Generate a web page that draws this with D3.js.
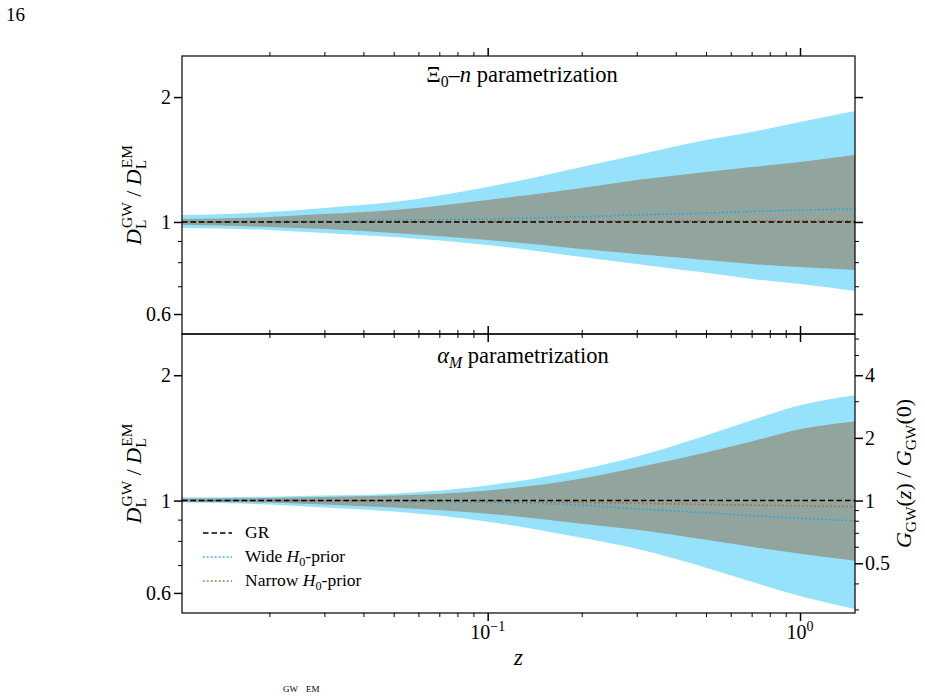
<!DOCTYPE html>
<html><head><meta charset="utf-8">
<script src="https://cdn.jsdelivr.net/npm/d3@7"></script>
<style>
body{margin:0;background:#fff}
text{font-family:"Liberation Serif","Times New Roman",serif;fill:#000;white-space:pre}
</style></head>
<body><svg id="c" width="925" height="697"></svg>
<script>
// ---------- data ----------
const zVals        = [0.0105, 0.02, 0.03, 0.05, 0.1, 0.2, 0.3, 0.5, 0.7, 1.0, 1.5];
// Xi0-n parametrization
const xiWideLo     = [0.967, 0.957, 0.941, 0.920, 0.880, 0.823, 0.792, 0.754, 0.729, 0.709, 0.682];
const xiWideHi     = [1.039, 1.057, 1.081, 1.117, 1.214, 1.357, 1.450, 1.576, 1.648, 1.742, 1.851];
const xiNarrowLo   = [0.984, 0.973, 0.962, 0.941, 0.905, 0.861, 0.837, 0.810, 0.792, 0.779, 0.766];
const xiNarrowHi   = [1.017, 1.028, 1.045, 1.069, 1.130, 1.208, 1.262, 1.320, 1.357, 1.395, 1.450];
const xiWideMed    = [1.000, 1.003, 1.005, 1.010, 1.017, 1.030, 1.040, 1.050, 1.060, 1.068, 1.075];
const xiNarrowMed  = [1.000, 1.001, 1.001, 1.002, 1.003, 1.004, 1.004, 1.005, 1.005, 1.006, 1.006];
// alpha_M parametrization
const amWideLo     = [0.989, 0.978, 0.962, 0.941, 0.890, 0.814, 0.766, 0.690, 0.638, 0.590, 0.549];
const amWideHi     = [1.017, 1.022, 1.028, 1.039, 1.087, 1.188, 1.276, 1.434, 1.559, 1.694, 1.791];
const amNarrowLo   = [0.994, 0.989, 0.978, 0.962, 0.930, 0.880, 0.851, 0.805, 0.775, 0.745, 0.717];
const amNarrowHi   = [1.011, 1.014, 1.020, 1.028, 1.057, 1.130, 1.201, 1.305, 1.387, 1.483, 1.550];
const amWideMed    = [1.000, 0.999, 0.998, 0.996, 0.990, 0.975, 0.955, 0.935, 0.920, 0.907, 0.894];
const amNarrowMed  = [1.000, 1.000, 0.999, 0.999, 0.996, 0.990, 0.985, 0.979, 0.975, 0.971, 0.967];
const grLine       = [1, 1];
// ticks
const xMajor = [0.1, 1];
const xMinor = [0.02,0.03,0.04,0.05,0.06,0.07,0.08,0.09,0.2,0.3,0.4,0.5,0.6,0.7,0.8,0.9];
const yMajor = [0.6, 1, 2];
const yMajorLabels = ["0.6", "1", "2"];
const yMinor = [0.7, 0.8, 0.9];
const gMajor = [0.5, 1, 2, 4];
const gMajorLabels = ["0.5", "1", "2", "4"];
const gMinor = [0.3, 0.4, 0.6, 0.7, 0.8, 0.9, 3, 5, 6];
const legendItems = ["GR", "Wide", "Narrow"];

// ---------- layout ----------
const NB = '\u00a0';
const svg = d3.select('#c');
const L = 182, R = 855, T1 = 56, B1 = 334, T2 = 334, B2 = 613;
const yDom = [0.537, 2.512];
const x = d3.scaleLog().domain([0.0105, 1.5]).range([L, R]);
const yTop = d3.scaleLog().domain(yDom).range([B1, T1]);
const yBot = d3.scaleLog().domain(yDom).range([B2, T2]);
const gS = d3.scaleLog().domain([yDom[0]**2, yDom[1]**2]).range([B2, T2]);

const C_WIDE = '#97e2fb', C_NARROW = '#91a49e', C_WMED = '#1aa8e6', C_NMED = '#b8642c';

function drawMath(g, parts, fs) {
  let cx = 0;
  for (const p of parts) {
    if (p.stack) {
      const s = fs * 0.7;
      const a = g.append('text').attr('x', cx + (p.supdx||0)*fs).attr('y', -fs * 0.40).style('font-size', s + 'px').text(p.stack[0]);
      const b = g.append('text').attr('x', cx).attr('y', fs * 0.24).style('font-size', s + 'px').text(p.stack[1]);
      cx += Math.max(a.node().getComputedTextLength() + (p.supdx||0)*fs, b.node().getComputedTextLength());
    } else {
      const t = g.append('text').attr('x', cx).attr('y', (p.dy || 0) * fs)
        .style('font-size', (p.s || 1) * fs + 'px')
        .style('font-style', p.it ? 'italic' : 'normal').text(p.t.replace(/ /g, NB));
      cx += t.node().getComputedTextLength();
    }
  }
  return cx;
}
function mathLabel(parent, parts, fs, tx, ty, rot, anchor) {
  const outer = parent.append('g').attr('transform', `translate(${tx},${ty}) rotate(${rot || 0})`);
  const inner = outer.append('g');
  const w = drawMath(inner, parts, fs);
  const off = anchor === 'start' ? 0 : (anchor === 'end' ? -w : -w / 2);
  inner.attr('transform', `translate(${off},0)`);
  return outer;
}

function panel(id, y, top, bot, wLo, wHi, nLo, nHi, wMed, nMed) {
  const g = svg.append('g');
  svg.append('clipPath').attr('id', id).append('rect').attr('x', L).attr('y', top).attr('width', R - L).attr('height', bot - top);
  const pg = g.append('g').attr('clip-path', `url(#${id})`);
  const mk = (lo, hi) => zVals.map((z, i) => ({ z, lo: lo[i], hi: hi[i] }));
  const area = d3.area().x(d => x(d.z)).y0(d => y(d.lo)).y1(d => y(d.hi)).curve(d3.curveMonotoneX);
  const line = d3.line().x(d => x(d.z)).y(d => y(d.v)).curve(d3.curveMonotoneX);
  pg.append('path').attr('d', area(mk(wLo, wHi))).attr('fill', C_WIDE);
  pg.append('path').attr('d', area(mk(nLo, nHi))).attr('fill', C_NARROW);
  pg.append('path').attr('d', line(zVals.map((z, i) => ({ z, v: wMed[i] })))).attr('fill', 'none')
    .attr('stroke', C_WMED).attr('stroke-width', 1.6).attr('stroke-dasharray', '1.6,2.4');
  pg.append('path').attr('d', line(zVals.map((z, i) => ({ z, v: nMed[i] })))).attr('fill', 'none')
    .attr('stroke', C_NMED).attr('stroke-width', 1.6).attr('stroke-dasharray', '1.6,2.4');
  pg.append('path').attr('d', d3.line().x(d => d[0]).y(d => y(d[1]))([[L, grLine[0]], [R, grLine[1]]]))
    .attr('fill', 'none').attr('stroke', '#000').attr('stroke-width', 1.5).attr('stroke-dasharray', '5.5,3');
  // frame
  g.append('rect').attr('x', L).attr('y', top).attr('width', R - L).attr('height', bot - top)
    .attr('fill', 'none').attr('stroke', '#000').attr('stroke-width', 1.2);
  const ax = (axis, vals, size, w, tr) => {
    const a = g.append('g').attr('transform', tr).call(axis.tickValues(vals).tickSize(size).tickFormat('').tickSizeOuter(0));
    a.select('.domain').remove();
    a.selectAll('line').attr('stroke', '#000').attr('stroke-width', w);
    return a;
  };
  ax(d3.axisTop(x), xMajor, 8, 1.5, `translate(0,${top})`);
  ax(d3.axisTop(x), xMinor, 4, 1, `translate(0,${top})`);
  ax(d3.axisBottom(x), xMajor, 8, 1.5, `translate(0,${bot})`);
  ax(d3.axisBottom(x), xMinor, 4, 1, `translate(0,${bot})`);
  ax(d3.axisLeft(y), yMajor, 8, 1.5, `translate(${L},0)`);
  ax(d3.axisLeft(y), yMinor, 4, 1, `translate(${L},0)`);
  yMajor.forEach((v, i) => g.append('text').attr('x', L - 11).attr('y', y(v) + 7)
    .attr('text-anchor', 'end').style('font-size', '20px').text(yMajorLabels[i]));
  mathLabel(g, [{ t: 'D', it: 1 }, { stack: ['GW', 'L'], supdx: 0.05 }, { t: ' / ' }, { t: 'D', it: 1 }, { stack: ['EM', 'L'], supdx: 0.05 }],
    22, 141, (top + bot) / 2, -90);
  return g;
}

const g1 = panel('cp1', yTop, T1, B1, xiWideLo, xiWideHi, xiNarrowLo, xiNarrowHi, xiWideMed, xiNarrowMed);
{
  const a = g1.append('g').attr('transform', `translate(${R},0)`).call(d3.axisRight(yTop).tickValues(yMajor).tickSize(8).tickFormat('').tickSizeOuter(0));
  a.select('.domain').remove(); a.selectAll('line').attr('stroke', '#000').attr('stroke-width', 1.5);
  const b = g1.append('g').attr('transform', `translate(${R},0)`).call(d3.axisRight(yTop).tickValues(yMinor).tickSize(4).tickFormat('').tickSizeOuter(0));
  b.select('.domain').remove(); b.selectAll('line').attr('stroke', '#000').attr('stroke-width', 1);
}
const g2 = panel('cp2', yBot, T2, B2, amWideLo, amWideHi, amNarrowLo, amNarrowHi, amWideMed, amNarrowMed);
{
  const a = g2.append('g').attr('transform', `translate(${R},0)`).call(d3.axisRight(gS).tickValues(gMajor).tickSize(8).tickFormat('').tickSizeOuter(0));
  a.select('.domain').remove(); a.selectAll('line').attr('stroke', '#000').attr('stroke-width', 1.5);
  const b = g2.append('g').attr('transform', `translate(${R},0)`).call(d3.axisRight(gS).tickValues(gMinor).tickSize(4).tickFormat('').tickSizeOuter(0));
  b.select('.domain').remove(); b.selectAll('line').attr('stroke', '#000').attr('stroke-width', 1);
  gMajor.forEach((v, i) => g2.append('text').attr('x', R + 10).attr('y', gS(v) + 7).style('font-size', '20px').text(gMajorLabels[i]));
  mathLabel(g2, [{ t: 'G', it: 1 }, { t: 'GW', s: 0.7, dy: 0.24 }, { t: '(' }, { t: 'z', it: 1 }, { t: ')' }, { t: ' / ' },
    { t: 'G', it: 1 }, { t: 'GW', s: 0.7, dy: 0.24 }, { t: '(0)' }], 22, 911, (T2 + B2) / 2, -90);
}
mathLabel(svg, [{ t: '10' }, { t: '−1', s: 0.7, dy: -0.42 }], 20, x(xMajor[0]), 639);
mathLabel(svg, [{ t: '10' }, { t: '0', s: 0.7, dy: -0.42 }], 20, x(xMajor[1]), 639);
mathLabel(svg, [{ t: 'z', it: 1 }], 23, (L + R) / 2, 665);

mathLabel(svg, [{ t: 'Ξ' }, { t: '0', s: 0.7, dy: 0.22 }, { t: '–' }, { t: 'n', it: 1 }, { t: ' parametrization' }], 22.5, 522, 82);
mathLabel(svg, [{ t: 'α', it: 1 }, { t: 'M', it: 1, s: 0.7, dy: 0.22 }, { t: ' parametrization' }], 22.5, 523, 363);

const lg = svg.append('g');
const legY = [533, 557, 581];
const legStyles = [
  { c: '#000', d: '5.5,3' }, { c: '#14b8f2', d: '1.6,2.4' }, { c: C_NMED, d: '1.6,2.4' }];
legendItems.forEach((k, i) => {
  lg.append('line').attr('x1', 203).attr('x2', 232).attr('y1', legY[i]).attr('y2', legY[i])
    .attr('stroke', legStyles[i].c).attr('stroke-width', 1.5).attr('stroke-dasharray', legStyles[i].d);
  const parts = i === 0 ? [{ t: 'GR' }] : [{ t: k + ' ' }, { t: 'H', it: 1 }, { t: '0', s: 0.7, dy: 0.22 }, { t: '-prior' }];
  mathLabel(lg, parts, 17.5, 245, legY[i] + 5, 0, 'start');
});

svg.append('text').attr('x', 6).attr('y', 21).style('font-size', '19px').text('16');
svg.append('text').attr('x', 283).attr('y', 692).style('font-size', '9px').text('GW');
svg.append('text').attr('x', 306).attr('y', 692).style('font-size', '9px').text('EM');
</script></body></html>
